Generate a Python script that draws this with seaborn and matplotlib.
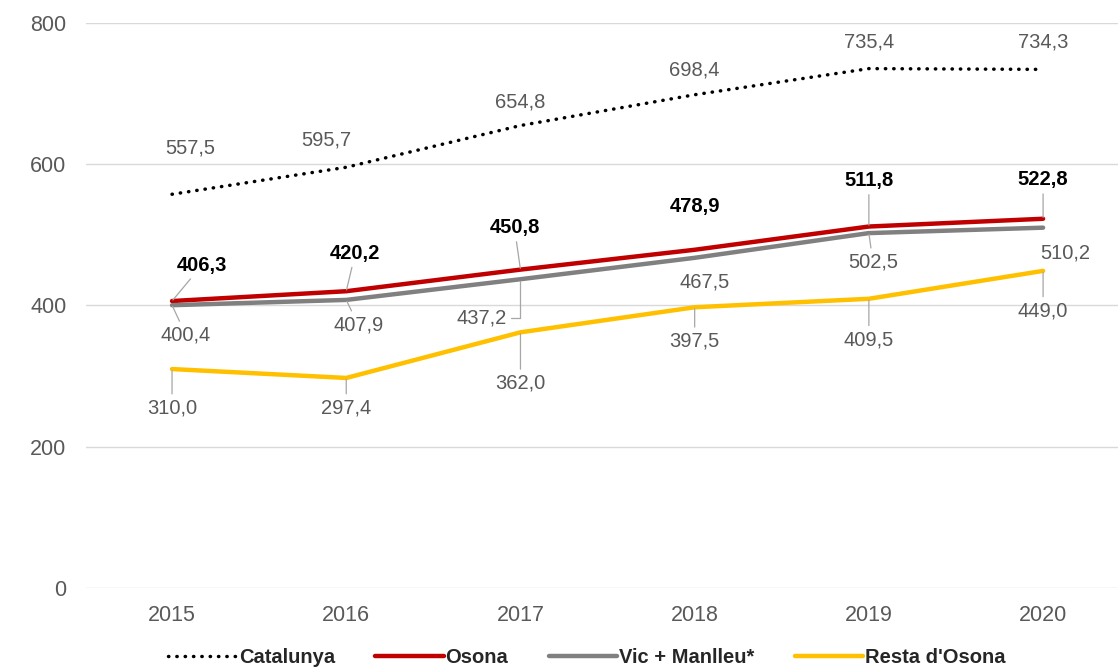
import matplotlib
matplotlib.use('Agg')
import matplotlib.pyplot as plt
import seaborn as sns

years = [2015, 2016, 2017, 2018, 2019, 2020]
catalunya = [557.5, 595.7, 654.8, 698.4, 735.4, 734.3]
osona = [406.3, 420.2, 450.8, 478.9, 511.8, 522.8]
vic_manlleu = [400.4, 407.9, 437.2, 467.5, 502.5, 510.2]
resta_osona = [310.0, 297.4, 362.0, 397.5, 409.5, 449.0]
series_names = ['Catalunya', 'Osona', 'Vic + Manlleu*', "Resta d'Osona"]

# label offsets in pixels (dx, dy) and whether a leader line is drawn
cat_off = [(18, 46), (-20, 27), (0, 24), (0, 25), (0, 27), (0, 27)]
cat_lead = [False] * 6
osona_off = [(30, 36), (9, 38), (-6, 42), (0, 43), (0, 46), (0, 39)]
osona_lead = [True, True, True, False, True, True]
vic_off = [(14, -30), (12, -25), (-39, -39), (10, -24), (4, -29), (22, -25)]
vic_lead = [True, True, True, False, True, False]
resta_off = [(0, -39), (0, -30), (0, -51), (0, -34), (0, -41), (0, -40)]
resta_lead = [True, True, True, True, True, True]

sns.set_theme(style='white')
plt.rcParams['font.family'] = ['Liberation Sans', 'DejaVu Sans']

fig = plt.figure(figsize=(11.18, 6.72), dpi=100)
ax = fig.add_axes([0.0769, 0.125, 0.9231, 0.8408])

grey_txt = '#595959'

sns.lineplot(x=years, y=catalunya, ax=ax, color='black', lw=2.5,
             ls=(0, (0.1, 2.3)), dash_capstyle='round', label=series_names[0])
sns.lineplot(x=years, y=osona, ax=ax, color='#C00000', lw=3.2, label=series_names[1])
sns.lineplot(x=years, y=vic_manlleu, ax=ax, color='#808080', lw=3.2, label=series_names[2])
sns.lineplot(x=years, y=resta_osona, ax=ax, color='#FFC000', lw=3.2, label=series_names[3])


def fmt(v):
    return f'{v:.1f}'.replace('.', ',')


def add_labels(vals, offs, leads, color, weight):
    for i, (x, v, (dx, dy), lead) in enumerate(zip(years, vals, offs, leads)):
        props = None
        if lead:
            props = dict(arrowstyle='-', color='#A6A6A6', lw=0.9, shrinkA=1, shrinkB=1)
            # the 2017 Vic label leader goes sideways then up
            if dx < -20:
                props['connectionstyle'] = 'angle,angleA=0,angleB=90,rad=0'
        ax.annotate(fmt(v), xy=(x, v), xytext=(dx, dy), textcoords='offset pixels',
                    ha='center', va='center', fontsize=14.5, color=color,
                    fontweight=weight, arrowprops=props)


add_labels(catalunya, cat_off, cat_lead, grey_txt, 'normal')
add_labels(osona, osona_off, osona_lead, 'black', 'bold')
add_labels(vic_manlleu, vic_off, vic_lead, grey_txt, 'normal')
add_labels(resta_osona, resta_off, resta_lead, grey_txt, 'normal')

ax.set_ylim(0, 800)
ax.set_yticks([0, 200, 400, 600, 800])
ax.set_xlim(2015 - 0.494, 2020 + 0.43)
ax.set_xticks(years)
ax.set_xticklabels([str(y) for y in years])
ax.yaxis.grid(True, color='#D9D9D9', lw=1)
ax.xaxis.grid(False)
for s in ax.spines.values():
    s.set_visible(False)
ax.tick_params(axis='y', length=0, pad=14, labelsize=15.5, labelcolor=grey_txt)
ax.tick_params(axis='x', length=0, pad=12, labelsize=15.5, labelcolor=grey_txt)
ax.set_xlabel('')
ax.set_ylabel('')

ax.legend(loc='lower center', bbox_to_anchor=(0.525, -0.005), bbox_transform=fig.transFigure,
          ncol=4, frameon=False, handlelength=3.4, columnspacing=2.0, handletextpad=0.1,
          prop=dict(family=['Liberation Sans'], weight='bold', size=14.5),
          borderaxespad=0.0)

fig.savefig('out.png', dpi=100)
